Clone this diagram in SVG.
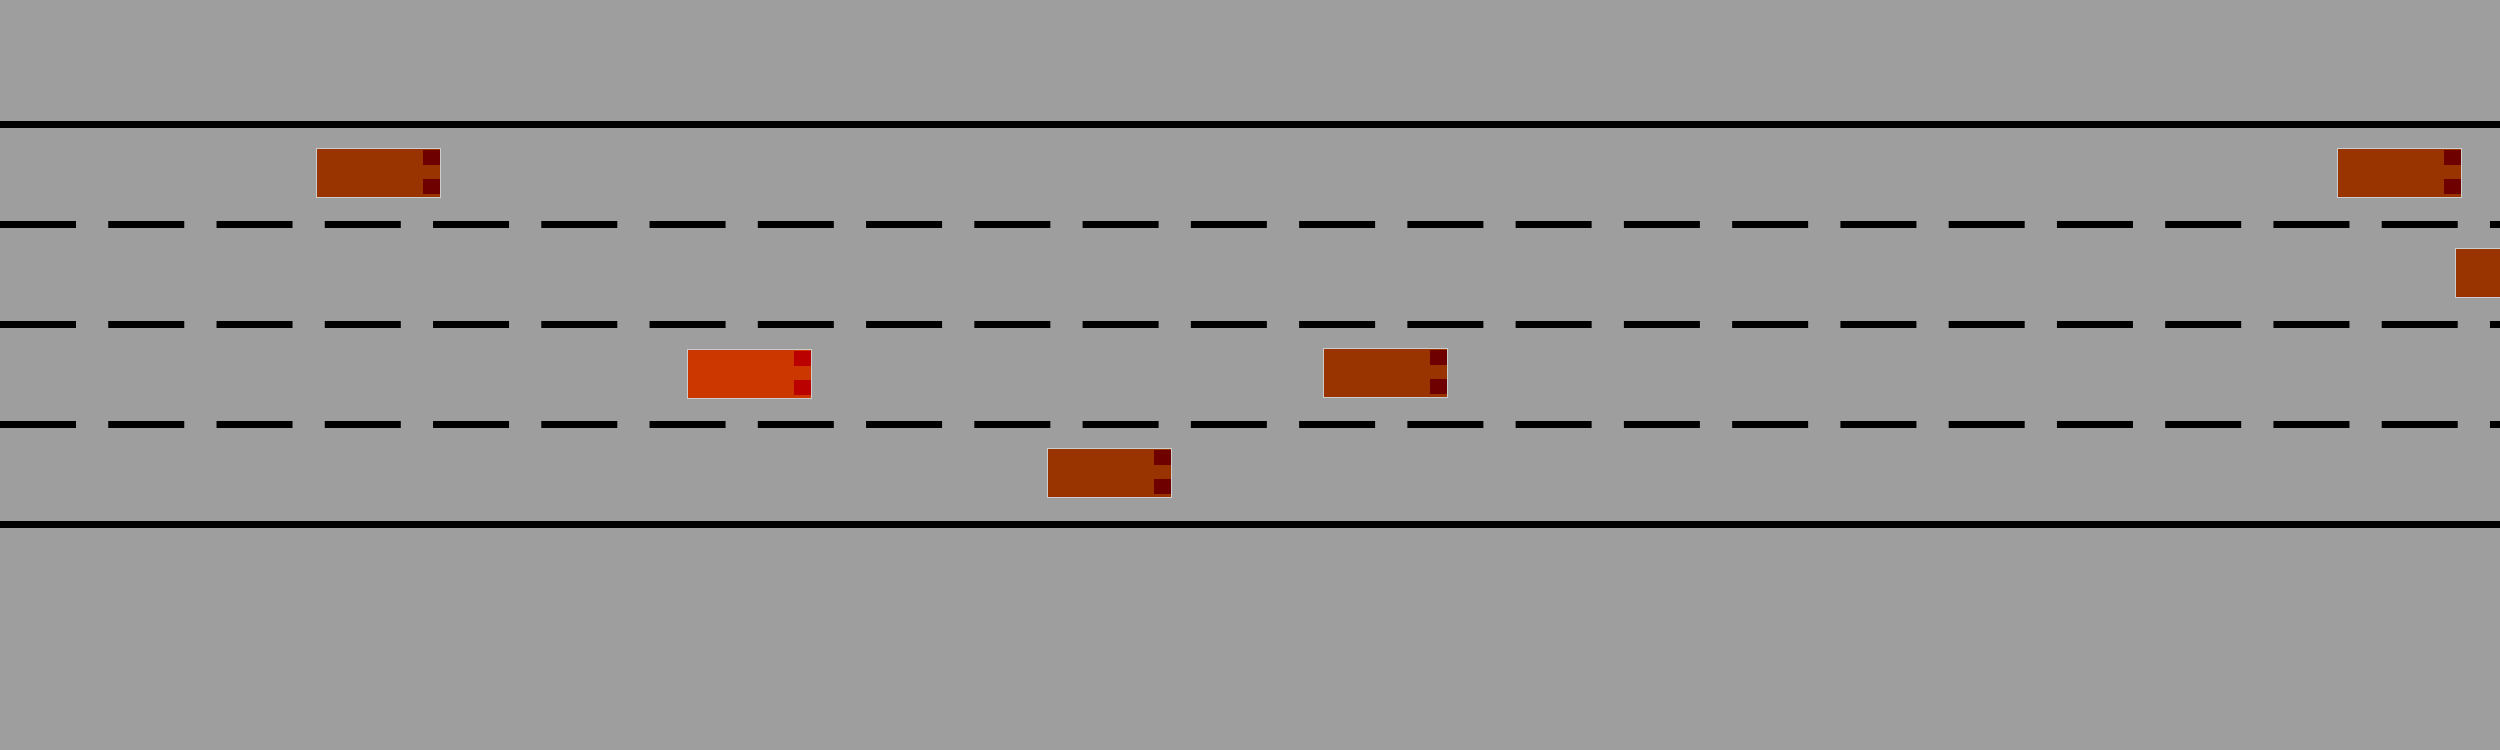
<svg xmlns="http://www.w3.org/2000/svg" width="2500" height="750" viewBox="0 0 2500 750">
<style>
.solid{stroke:#000;stroke-width:7;fill:none}
.dash{stroke:#000;stroke-width:7;fill:none;stroke-dasharray:76 32.26}
.body{fill:#993300;stroke:#cccccc;stroke-width:1}
.light{fill:#6e0000}
.red .body{fill:#cc3700}
.red .light{fill:#bb0000}
</style>
<rect x="0" y="0" width="2500" height="750" fill="#9e9e9e"/>
<g id="road">
<line class="solid" x1="0" y1="124.5" x2="2500" y2="124.5"/>
<line class="dash" x1="0" y1="224.5" x2="2500" y2="224.5"/>
<line class="dash" x1="0" y1="324.5" x2="2500" y2="324.5"/>
<line class="dash" x1="0" y1="424.5" x2="2500" y2="424.5"/>
<line class="solid" x1="0" y1="524.5" x2="2500" y2="524.5"/>
</g>
<g id="car1" transform="translate(316,148)"><rect class="body" x="0.5" y="0.5" width="124" height="49"/><rect class="light" x="107" y="2" width="17" height="15"/><rect class="light" x="107" y="31" width="17" height="15"/></g>
<g id="car2" class="red" transform="translate(687,349)"><rect class="body" x="0.5" y="0.5" width="124" height="49"/><rect class="light" x="107" y="2" width="17" height="15"/><rect class="light" x="107" y="31" width="17" height="15"/></g>
<g id="car3" transform="translate(1047,448)"><rect class="body" x="0.5" y="0.5" width="124" height="49"/><rect class="light" x="107" y="2" width="17" height="15"/><rect class="light" x="107" y="31" width="17" height="15"/></g>
<g id="car4" transform="translate(1323,348)"><rect class="body" x="0.5" y="0.5" width="124" height="49"/><rect class="light" x="107" y="2" width="17" height="15"/><rect class="light" x="107" y="31" width="17" height="15"/></g>
<g id="car5" transform="translate(2337,148)"><rect class="body" x="0.5" y="0.5" width="124" height="49"/><rect class="light" x="107" y="2" width="17" height="15"/><rect class="light" x="107" y="31" width="17" height="15"/></g>
<g id="car6" transform="translate(2455,248)"><rect class="body" x="0.5" y="0.5" width="124" height="49"/><rect class="light" x="107" y="2" width="17" height="15"/><rect class="light" x="107" y="31" width="17" height="15"/></g>
</svg>
